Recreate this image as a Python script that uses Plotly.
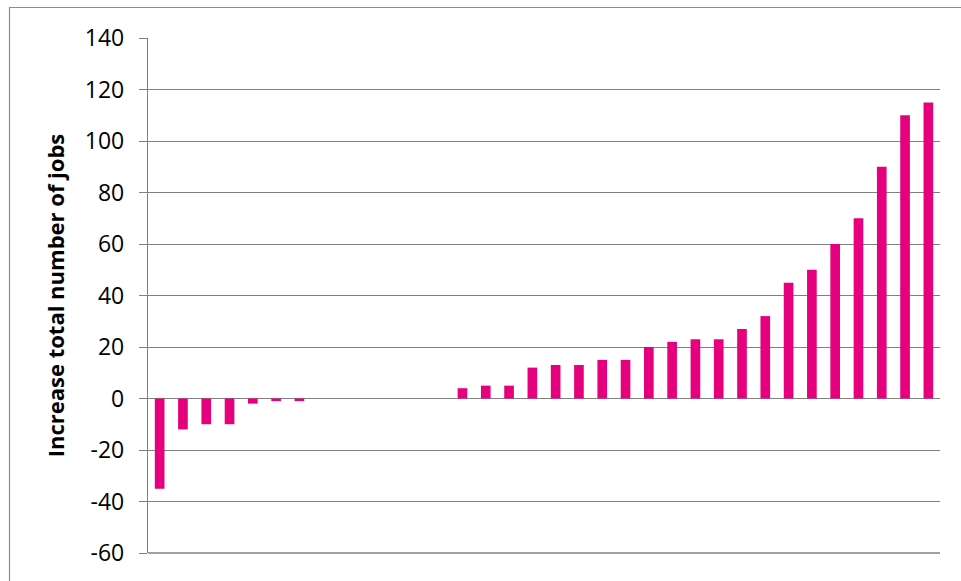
import plotly.graph_objects as go

categories = [f"c{i}" for i in range(1, 35)]
values = [-35, -12, -10, -10, -2, -1, -1, 0, 0, 0, 0, 0, 0,
          4, 5, 5, 12, 13, 13, 15, 15, 20, 22, 23, 23, 27, 32,
          45, 50, 60, 70, 90, 110, 115]
y_ticks = [-60, -40, -20, 0, 20, 40, 60, 80, 100, 120, 140]
y_tick_labels = ["-60", "-40", "-20", "0", "20", "40", "60", "80", "100", "120", "140"]
y_title = "Increase total number of jobs"

W, H = 961, 581
L, R, T, B = 148, 21, 38, 28
pw, ph = W - L - R, H - T - B

grid = "#808080"
font = "Open Sans"

fig = go.Figure(go.Bar(x=categories, y=values, marker_color="#E6007E",
                       marker_line_width=0))

def px_x(p):
    return (p - L) / pw

def px_y(p):
    return (H - B - p) / ph

fig.update_layout(
    width=W, height=H,
    margin=dict(l=L, r=R, t=T, b=B, pad=0),
    paper_bgcolor="white", plot_bgcolor="white",
    bargap=0.585,
    showlegend=False,
    font=dict(family=font, color="#000000"),
    xaxis=dict(showticklabels=False, showgrid=False, zeroline=False,
               showline=False, ticks=""),
    yaxis=dict(range=[-60, 140], tickvals=y_ticks, ticktext=y_tick_labels,
               showgrid=True,
               gridcolor=grid, gridwidth=1.3, zeroline=True,
               zerolinecolor=grid, zerolinewidth=1.3,
               showline=True, linecolor=grid, linewidth=1.3,
               ticks="outside", ticklen=8, tickcolor=grid, tickwidth=1.3,
               tickfont=dict(family=font, size=23, color="#000000"),
               ticklabelstandoff=10,
               title=dict(text=y_title, standoff=14,
                          font=dict(family=font, size=22, color="#000000",
                                    weight="bold"))),
    shapes=[
        dict(type="line", xref="paper", yref="paper",
             x0=px_x(9), x1=px_x(W + 5), y0=px_y(7.5), y1=px_y(7.5),
             line=dict(color="#8c8c8c", width=1.2)),
        dict(type="line", xref="paper", yref="paper",
             x0=px_x(9.5), x1=px_x(9.5), y0=px_y(7), y1=px_y(H + 5),
             line=dict(color="#8c8c8c", width=1.2)),
        dict(type="line", xref="paper", yref="paper",
             x0=0, x1=1, y0=0, y1=0, line=dict(color=grid, width=1.3)),
    ],
)

fig.write_html("out.html")
